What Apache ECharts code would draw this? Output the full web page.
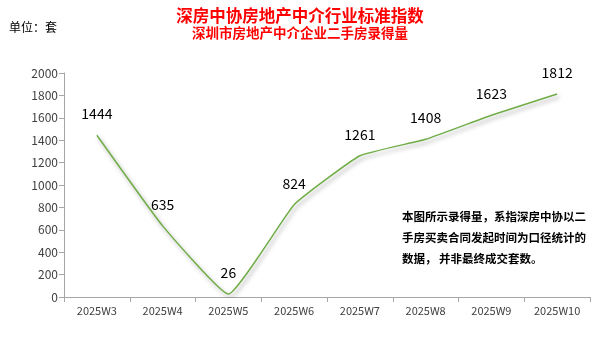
<!DOCTYPE html>
<html><head><meta charset="utf-8">
<script src="https://cdn.jsdelivr.net/npm/echarts@6/dist/echarts.min.js"></script>
<style>html,body{margin:0;padding:0;background:#fff}#c{width:600px;height:349px}</style>
</head><body><div id="c"></div>
<script>
const categories = ['2025W3','2025W4','2025W5','2025W6','2025W7','2025W8','2025W9','2025W10'];
const values = [1444, 635, 26, 824, 1261, 1408, 1623, 1812];
const yTicks = {min: 0, max: 2000, interval: 200};
const titleText = '深房中协房地产中介行业标准指数';
const subtitleText = '深圳市房地产中介企业二手房录得量';
const unitText = '单位：套';
const noteLines = ['本图所示录得量，系指深房中协以二', '手房买卖合同发起时间为口径统计的', '数据， 并非最终成交套数。'];

const chart = echarts.init(document.getElementById('c'));
const font = '"Microsoft YaHei","Noto Sans CJK SC",sans-serif';
chart.setOption({
  animation: false,
  textStyle: {fontFamily: font},
  title: [
    {text: titleText, left: 'center', top: 2, textStyle: {color: '#FF0000', fontSize: 16.5, fontWeight: 'bold', fontFamily: font}},
    {text: subtitleText, left: 'center', top: 21, textStyle: {color: '#FF0000', fontSize: 13.5, fontWeight: 'bold', fontFamily: font}},
    {text: unitText, left: 4, top: 16, textStyle: {color: '#000', fontSize: 12, fontWeight: 'normal', fontFamily: font}}
  ],
  graphic: noteLines.map((t, i) => ({
    type: 'text', left: 402, top: 211 + i * 21,
    style: {text: t, fill: '#000', font: 'bold 11.5px ' + font}
  })),
  grid: {left: 64, right: 10, top: 73, bottom: 52},
  xAxis: {
    type: 'category', data: categories, boundaryGap: true,
    axisLine: {lineStyle: {color: '#A6A6A6'}},
    axisTick: {show: true, alignWithLabel: false, lineStyle: {color: '#A6A6A6'}},
    axisLabel: {color: '#404040', fontSize: 11, margin: 8}
  },
  yAxis: {
    type: 'value', min: yTicks.min, max: yTicks.max, interval: yTicks.interval,
    axisLine: {show: true, lineStyle: {color: '#A6A6A6'}},
    axisTick: {show: true, lineStyle: {color: '#A6A6A6'}},
    splitLine: {show: false},
    axisLabel: {color: '#404040', fontSize: 12, margin: 6, formatter: v => String(v)}
  },
  series: [{
    type: 'line', data: values, smooth: 0.12, symbol: 'circle', symbolSize: 1, showSymbol: true,
    itemStyle: {color: 'rgba(0,0,0,0)'},
    lineStyle: {color: '#70AD47', width: 1.5, shadowColor: 'rgba(0,0,0,0.35)', shadowBlur: 4, shadowOffsetX: 2, shadowOffsetY: 3},
    label: {show: true, position: 'top', distance: 14, color: '#000', fontSize: 14}
  }]
});
</script></body></html>
